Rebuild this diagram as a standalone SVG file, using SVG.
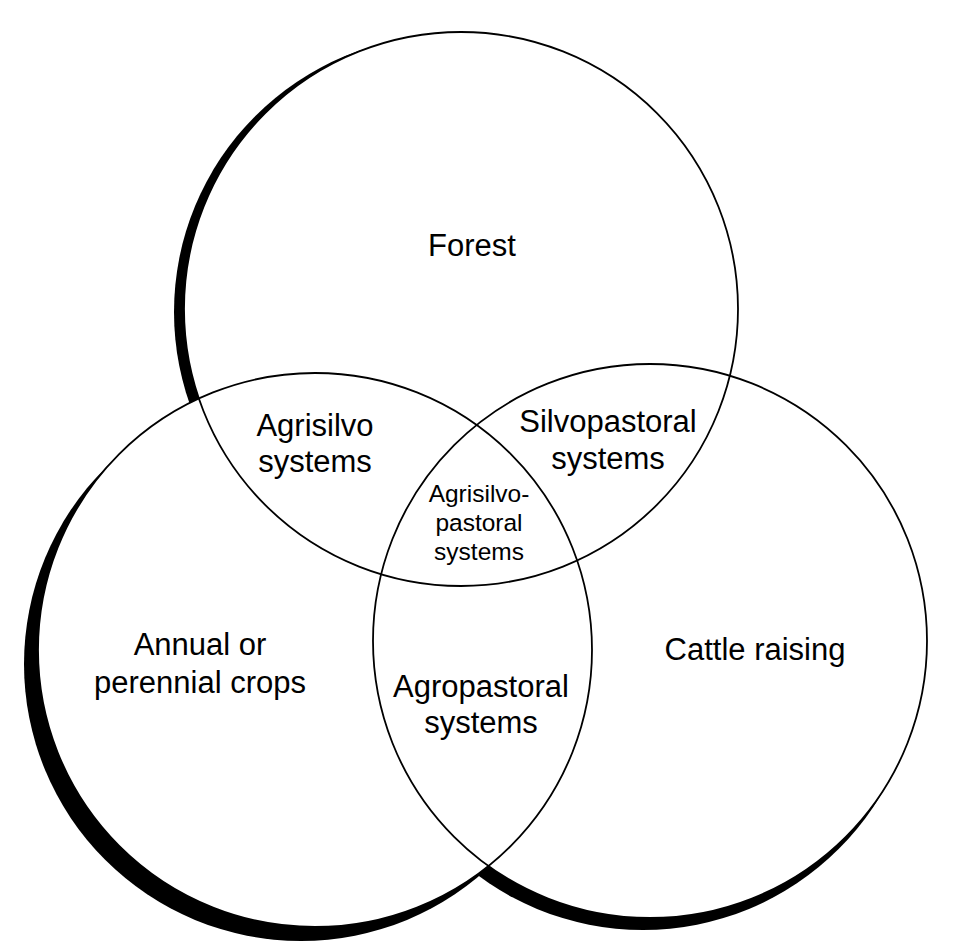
<svg xmlns="http://www.w3.org/2000/svg" width="959" height="952" viewBox="0 0 959 952">
<style>
.shadow{fill:#000;stroke:none}
.fillw{fill:#fff;stroke:none}
.ring{fill:none;stroke:#000;stroke-width:1.8}
.lbl{font-family:"Liberation Sans",Arial,sans-serif;font-size:31px;fill:#000;text-anchor:middle}
.sm{font-size:24.5px}
</style>
<rect width="959" height="952" fill="#fff"/>
<g id="shadows">
<circle class="shadow" cx="451" cy="312" r="277"/>
<circle class="shadow" cx="301" cy="664" r="277"/>
<circle class="shadow" cx="643" cy="653" r="277"/>
</g>
<g id="fills">
<circle class="fillw" cx="461" cy="309" r="277"/>
<circle class="fillw" cx="315" cy="650" r="277"/>
<circle class="fillw" cx="650" cy="641" r="277"/>
</g>
<g id="forest">
<circle class="ring" cx="461" cy="309" r="277"/>
<text class="lbl" x="472" y="256">Forest</text>
</g>
<g id="crops">
<circle class="ring" cx="315" cy="650" r="277"/>
<text class="lbl" x="200" y="655">Annual or</text>
<text class="lbl" x="200" y="693">perennial crops</text>
</g>
<g id="cattle">
<circle class="ring" cx="650" cy="641" r="277"/>
<text class="lbl" x="755" y="660">Cattle raising</text>
</g>
<g id="agrisilvo">
<text class="lbl" x="315" y="436">Agrisilvo</text>
<text class="lbl" x="315" y="472">systems</text>
</g>
<g id="silvopastoral">
<text class="lbl" x="608" y="432">Silvopastoral</text>
<text class="lbl" x="608" y="469">systems</text>
</g>
<g id="agropastoral">
<text class="lbl" x="481" y="697">Agropastoral</text>
<text class="lbl" x="481" y="733">systems</text>
</g>
<g id="agrisilvopastoral">
<text class="lbl sm" x="479" y="502">Agrisilvo-</text>
<text class="lbl sm" x="479" y="531">pastoral</text>
<text class="lbl sm" x="479" y="560">systems</text>
</g>
<g id="connectors"></g>
</svg>
